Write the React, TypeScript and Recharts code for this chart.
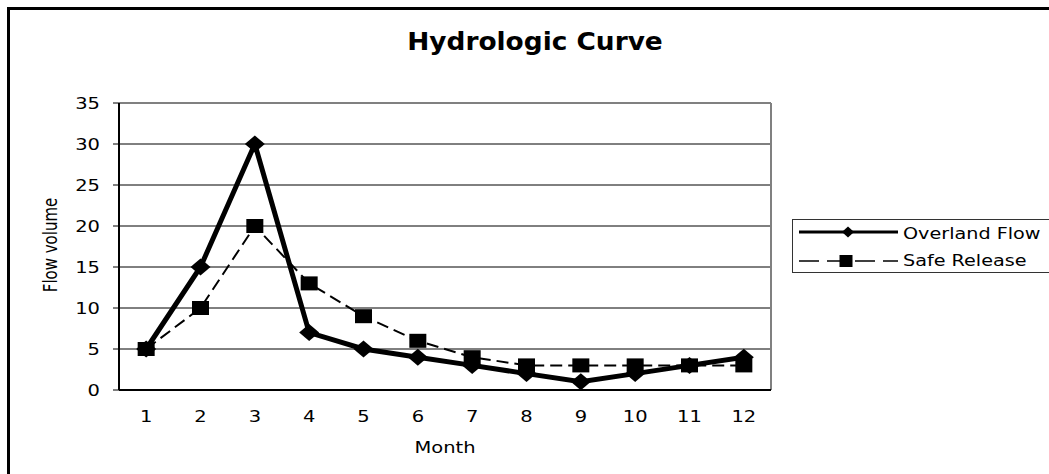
import React from "react";
import {
  LineChart,
  Line,
  XAxis,
  YAxis,
  CartesianGrid,
  ReferenceLine,
  Legend,
} from "recharts";

const months = [1, 2, 3, 4, 5, 6, 7, 8, 9, 10, 11, 12];
const overlandFlow = [5, 15, 30, 7, 5, 4, 3, 2, 1, 2, 3, 4];
const safeRelease = [5, 10, 20, 13, 9, 6, 4, 3, 3, 3, 3, 3];
const yTicks = [0, 5, 10, 15, 20, 25, 30, 35];
const seriesNames = ["Overland Flow", "Safe Release"];
const chartTitle = "Hydrologic Curve";
const xTitle = "Month";
const yTitle = "Flow volume";

const edgeTicks = [months[0] - 0.5, ...months.map((m) => m + 0.5)];
const data = months.map((m, i) => ({
  month: m,
  overland: overlandFlow[i],
  safe: safeRelease[i],
}));

const FONT = "'DejaVu Sans', Verdana, sans-serif";
const SX = 1.3;

const Diamond = ({ cx, cy, w = 10, h = 8.5 }: any) => (
  <polygon
    points={`${cx},${cy - h} ${cx + w},${cy} ${cx},${cy + h} ${cx - w},${cy}`}
    fill="#000"
    stroke="none"
  />
);
const Square = ({ cx, cy, w = 8.5, h = 7 }: any) => (
  <rect x={cx - w} y={cy - h} width={2 * w} height={2 * h} fill="#000" stroke="none" />
);

const renderDiamondDot = (p: any) => (
  <Diamond key={`d-${p.index}`} cx={p.cx} cy={p.cy} />
);
const renderSquareDot = (p: any) => (
  <Square key={`s-${p.index}`} cx={p.cx} cy={p.cy} />
);

const XTick = ({ x, y, payload }: any) => (
  <g transform={`translate(${x},${y + 31}) scale(${SX},1)`}>
    <text textAnchor="middle" fontFamily={FONT} fontSize={15} fill="#000">
      {payload.value}
    </text>
  </g>
);
const YTick = ({ x, y, payload }: any) => (
  <g transform={`translate(${x - 13},${y + 5.5}) scale(${SX},1)`}>
    <text textAnchor="end" fontFamily={FONT} fontSize={15} fill="#000">
      {payload.value}
    </text>
  </g>
);

const LegendBox = () => (
  <div
    style={{
      width: 300,
      height: 54,
      border: "1px solid #333",
      background: "#fff",
      boxSizing: "border-box",
    }}
  >
    <svg width={300} height={54} style={{ display: "block" }}>
      <line x1={6} y1={12} x2={105} y2={12} stroke="#000" strokeWidth={3} />
      <Diamond cx={55} cy={12} w={6} h={5.5} />
      <g transform={`translate(110,19) scale(1.2,1)`}>
        <text fontFamily={FONT} fontSize={16} fill="#000">
          {seriesNames[0]}
        </text>
      </g>
      <line
        x1={6}
        y1={41}
        x2={105}
        y2={41}
        stroke="#000"
        strokeWidth={1.5}
        strokeDasharray="20 8"
      />
      <Square cx={53} cy={41} w={6.5} h={6} />
      <g transform={`translate(110,46) scale(1.2,1)`}>
        <text fontFamily={FONT} fontSize={16} fill="#000">
          {seriesNames[1]}
        </text>
      </g>
    </svg>
  </div>
);

export default function App() {
  return (
    <div
      style={{
        position: "fixed",
        left: 0,
        top: 0,
        width: 1049,
        height: 474,
        overflow: "hidden",
        background: "#fff",
      }}
    >
      <svg
        width={1049}
        height={474}
        style={{ position: "absolute", left: 0, top: 0 }}
      >
        <line x1={8.5} y1={7} x2={8.5} y2={474} stroke="#000" strokeWidth={3} />
        <line x1={7} y1={8.5} x2={1049} y2={8.5} stroke="#000" strokeWidth={3} />
        <g transform={`translate(535,50) scale(1.1,1)`}>
          <text
            textAnchor="middle"
            fontFamily={FONT}
            fontSize={24}
            fontWeight="bold"
            fill="#000"
          >
            {chartTitle}
          </text>
        </g>
        <g transform={`translate(445,453) scale(${SX},1)`}>
          <text textAnchor="middle" fontFamily={FONT} fontSize={15} fill="#000">
            {xTitle}
          </text>
        </g>
        <g transform={`translate(57,245) scale(${SX},1) rotate(-90)`}>
          <text textAnchor="middle" fontFamily={FONT} fontSize={15} fill="#000">
            {yTitle}
          </text>
        </g>
      </svg>
      <div style={{ position: "absolute", left: 0, top: 0 }}>
        <LineChart
          width={1049}
          height={474}
          data={data}
          margin={{ top: 103, right: 278, bottom: 53, left: 59 }}
        >
          <CartesianGrid
            xAxisId="m"
            horizontal={true}
            vertical={false}
            stroke="#000"
            strokeWidth={1}
          />
          <XAxis
            xAxisId="edge"
            type="number"
            dataKey="month"
            domain={[edgeTicks[0], edgeTicks[edgeTicks.length - 1]]}
            allowDataOverflow
            ticks={edgeTicks}
            interval={0}
            tick={false}
            tickSize={5}
            tickLine={{ stroke: "#000", strokeWidth: 1 }}
            axisLine={{ stroke: "#000", strokeWidth: 2 }}
            height={1}
          />
          <XAxis
            xAxisId="m"
            type="number"
            dataKey="month"
            domain={[edgeTicks[0], edgeTicks[edgeTicks.length - 1]]}
            allowDataOverflow
            ticks={months}
            tick={<XTick />}
            tickLine={false}
            axisLine={false}
            tickSize={0}
            tickMargin={0}
            height={30}
            interval={0}
          />
          <YAxis
            type="number"
            domain={[0, 35]}
            ticks={yTicks}
            allowDataOverflow
            interval={0}
            width={60}
            tick={<YTick />}
            tickSize={6}
            tickMargin={0}
            tickLine={{ stroke: "#000", strokeWidth: 1 }}
            axisLine={{ stroke: "#000", strokeWidth: 2 }}
          />
          <ReferenceLine y={35} xAxisId="m" stroke="#808080" strokeWidth={2} />
          <ReferenceLine
            x={edgeTicks[edgeTicks.length - 1]}
            xAxisId="m"
            stroke="#808080"
            strokeWidth={2}
          />
          <Legend
            layout="horizontal"
            verticalAlign="middle"
            align="center"
            content={<LegendBox />}
            wrapperStyle={{ position: "absolute", left: 792, top: 219, width: 300 }}
          />
          <Line
            xAxisId="m"
            type="linear"
            dataKey="overland"
            name={seriesNames[0]}
            stroke="#000"
            strokeWidth={5}
            dot={renderDiamondDot}
            activeDot={false}
            isAnimationActive={false}
          />
          <Line
            xAxisId="m"
            type="linear"
            dataKey="safe"
            name={seriesNames[1]}
            stroke="#000"
            strokeWidth={2}
            strokeDasharray="12 6"
            dot={renderSquareDot}
            activeDot={false}
            isAnimationActive={false}
          />
        </LineChart>
      </div>
    </div>
  );
}
